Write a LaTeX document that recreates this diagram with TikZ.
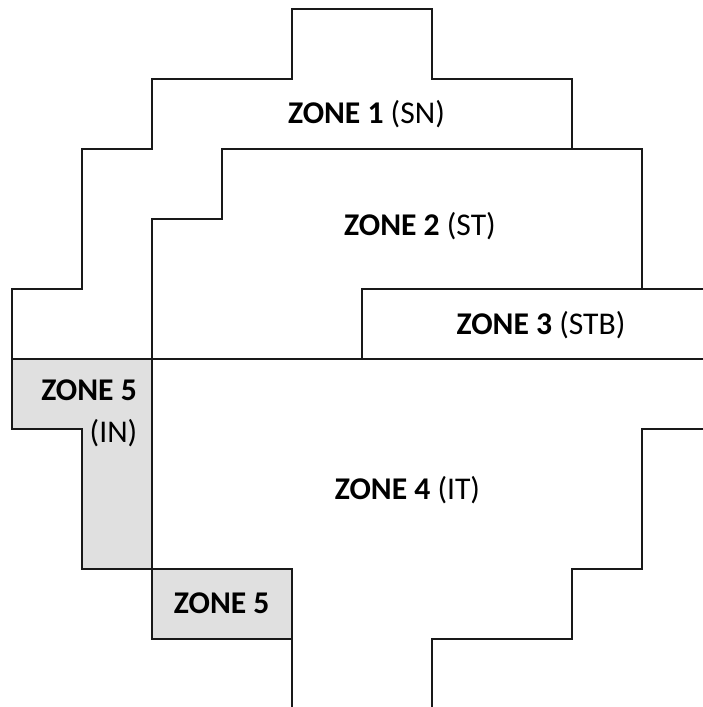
\documentclass[tikz,border=0pt]{standalone}
\usepackage{fontspec}
\setmainfont{Carlito}
\definecolor{zonegray}{RGB}{224,224,224}
\definecolor{zoneline}{RGB}{25,25,25}
\begin{document}
\begin{tikzpicture}[x=0.7cm,y=-0.7cm,
  wall/.style={draw=zoneline,line width=0.7pt,line join=miter},
  zonefill/.style={fill=zonegray},
  zonelabel/.style={font=\fontsize{9}{11}\selectfont,inner sep=0pt,anchor=base}]
\useasboundingbox (-0.1714,-0.1286) rectangle (9.8714,9.9714);
% grey zone 5 areas
\fill[zonefill] (0,5) -- (2,5) -- (2,8) -- (1,8) -- (1,6) -- (0,6) -- cycle;
\fill[zonefill] (2,8) rectangle (4,9);
% outer boundary
\draw[wall] (4,0) -- (6,0) -- (6,1) -- (8,1) -- (8,2) -- (9,2) -- (9,4) -- (10,4)
  -- (10,6) -- (9,6) -- (9,8) -- (8,8) -- (8,9) -- (6,9) -- (6,10) -- (4,10)
  -- (4,9) -- (2,9) -- (2,8) -- (1,8) -- (1,6) -- (0,6) -- (0,4) -- (1,4)
  -- (1,2) -- (2,2) -- (2,1) -- (4,1) -- cycle;
% zone 2 boundary and zone 5 boundaries
\draw[wall] (8,2) -- (3,2) -- (3,3) -- (2,3) -- (2,8) -- (4,8) -- (4,9);
% horizontal divider
\draw[wall] (0,5) -- (10,5);
% zone 3
\draw[wall] (5,5) -- (5,4) -- (10,4);
% labels
\node[zonelabel] (z1) at (5.064,1.633) {\textbf{ZONE 1} (SN)};
\node[zonelabel] (z2) at (5.829,3.239) {\textbf{ZONE 2} (ST)};
\node[zonelabel] (z3) at (7.557,4.647) {\textbf{ZONE 3} (STB)};
\node[zonelabel,anchor=base east] (z5a) at (1.793,5.596) {\textbf{ZONE 5}};
\node[zonelabel,anchor=base east] (z5ain) at (1.800,6.196) {(IN)};
\node[zonelabel] (z4) at (5.65,7.004) {\textbf{ZONE 4} (IT)};
\node[zonelabel] (z5b) at (2.996,8.633) {\textbf{ZONE 5}};
\end{tikzpicture}
\end{document}
